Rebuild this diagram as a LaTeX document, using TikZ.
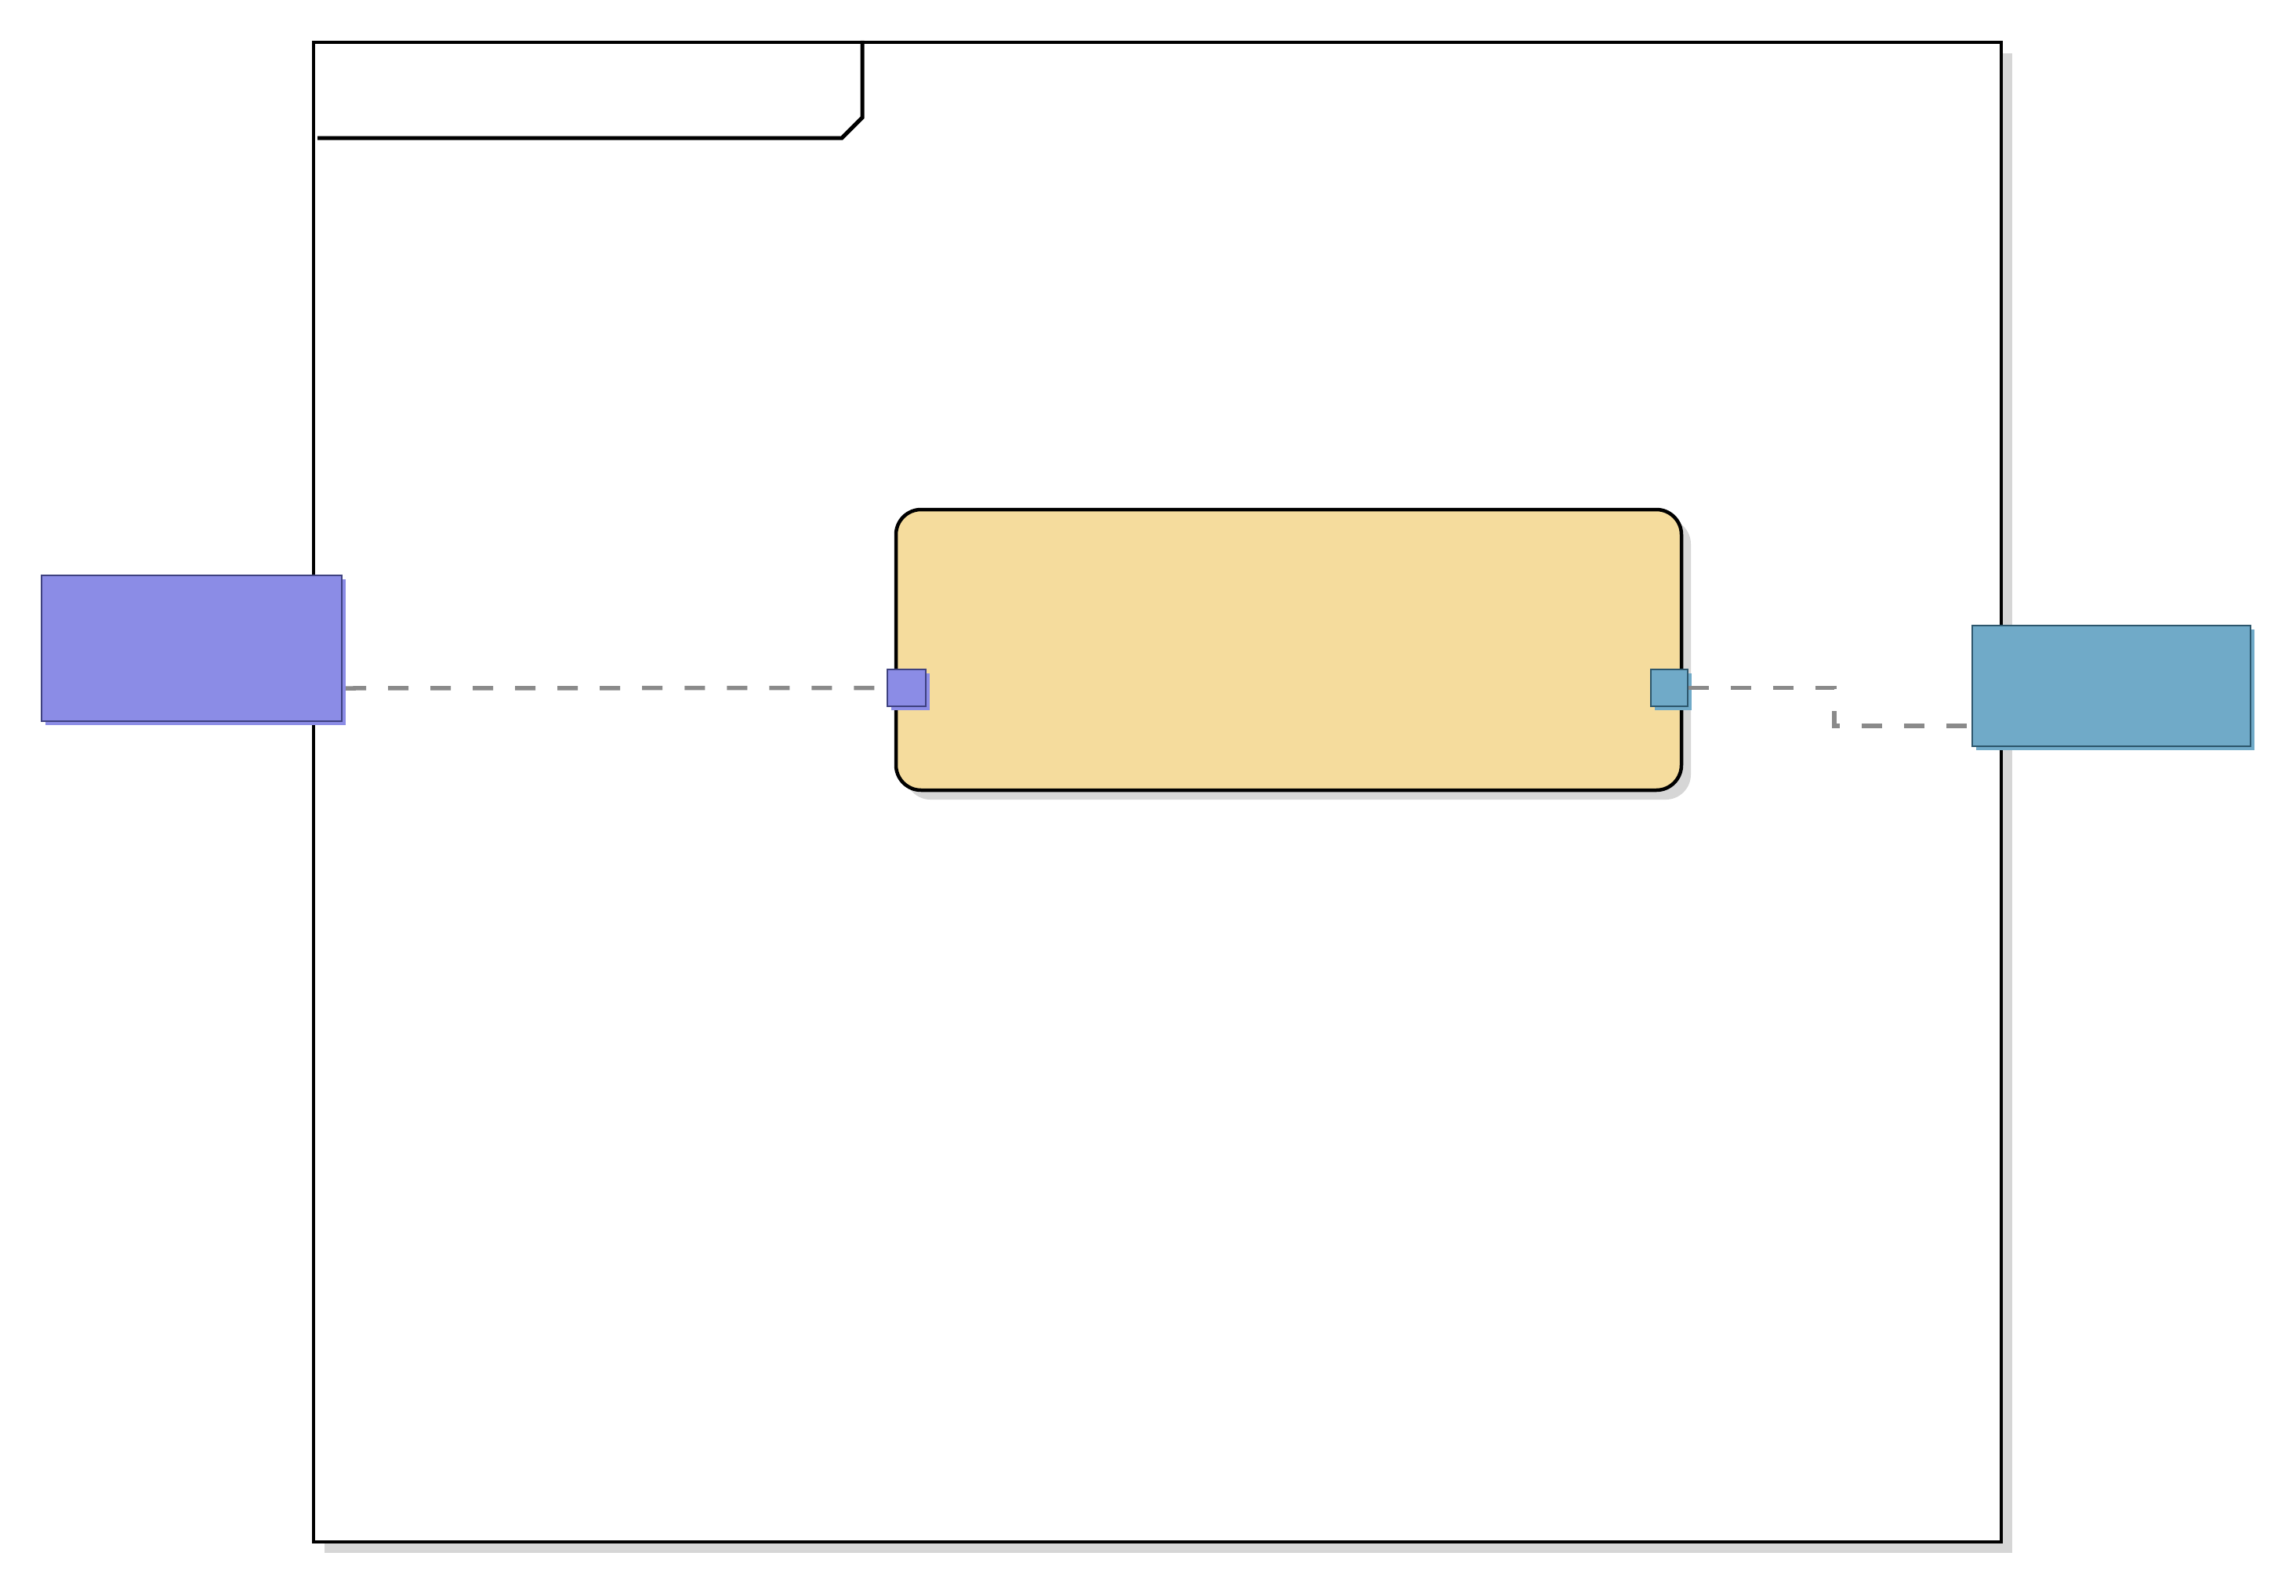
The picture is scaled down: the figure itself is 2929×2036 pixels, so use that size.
\documentclass[tikz,border=0pt]{standalone}
\usetikzlibrary{fit,shadows}
\definecolor{inportblue}{HTML}{8B8CE6}
\definecolor{inportedge}{HTML}{3E4180}
\definecolor{outportblue}{HTML}{70AAC8}
\definecolor{outportedge}{HTML}{2C566C}
\definecolor{partfill}{HTML}{F5DC9D}
\definecolor{shadowgray}{HTML}{D6D6D6}
\definecolor{flowgray}{HTML}{8A8A8A}
\begin{document}
\begin{tikzpicture}[x=0.01cm,y=-0.01cm,
  framebox/.style={fit=#1, inner sep=0pt, draw=black, line width=0.04cm, fill=white,
    general shadow={fill=shadowgray, shadow xshift=0.14cm, shadow yshift=-0.14cm}},
  partbox/.style={fit=#1, inner sep=0pt, draw=black, line width=0.045cm, fill=partfill,
    rounded corners=0.32cm,
    general shadow={fill=shadowgray, shadow xshift=0.12cm, shadow yshift=-0.12cm}},
  inbox/.style={fit=#1, inner sep=0pt, draw=inportedge, line width=0.012cm, fill=inportblue,
    general shadow={fill=inportblue, shadow xshift=0.05cm, shadow yshift=-0.05cm}},
  outbox/.style={fit=#1, inner sep=0pt, draw=outportedge, line width=0.012cm, fill=outportblue,
    general shadow={fill=outportblue, shadow xshift=0.05cm, shadow yshift=-0.05cm}},
  flow/.style={draw=flowgray, line width=0.055cm, dash pattern=on 0.26cm off 0.28cm},
  tabline/.style={line width=0.05cm}
]
\useasboundingbox (0,0) rectangle (2929,2036);

% corner points of the blocks
\coordinate (f1) at (400,54);    \coordinate (f2) at (2553,1967);
\coordinate (p1) at (1143,650);  \coordinate (p2) at (2145,1008);
\coordinate (a1) at (53,734);    \coordinate (a2) at (436,920);
\coordinate (b1) at (2516,798);  \coordinate (b2) at (2871,952);
\coordinate (q1) at (1132,854);  \coordinate (q2) at (1181,901);
\coordinate (r1) at (2106,854);  \coordinate (r2) at (2153,901);

% enclosing frame with its name tab
\node[framebox={(f1)(f2)}] (frame) {};
\coordinate (tabA) at (405,176);
\coordinate (tabB) at (1074,176);
\coordinate (tabC) at (1100,150);
\draw[tabline] (tabA) -- (tabB) -- (tabC) -- (tabC |- frame.north);

% inner part with its two ports
\node[partbox={(p1)(p2)}] (part) {};
\node[inbox={(q1)(q2)}] (lport) {};
\node[outbox={(r1)(r2)}] (rport) {};

% flows
\coordinate (bend) at (2340,926);
\coordinate (lstart) at (441,878);
\draw[flow] (lstart) -- (lport.west);
\draw[flow] (rport.east) -| (bend) -- (bend -| b1);

% external blocks on the frame boundary
\node[inbox={(a1)(a2)}] (lbox) {};
\node[outbox={(b1)(b2)}] (rbox) {};
\end{tikzpicture}
\end{document}
